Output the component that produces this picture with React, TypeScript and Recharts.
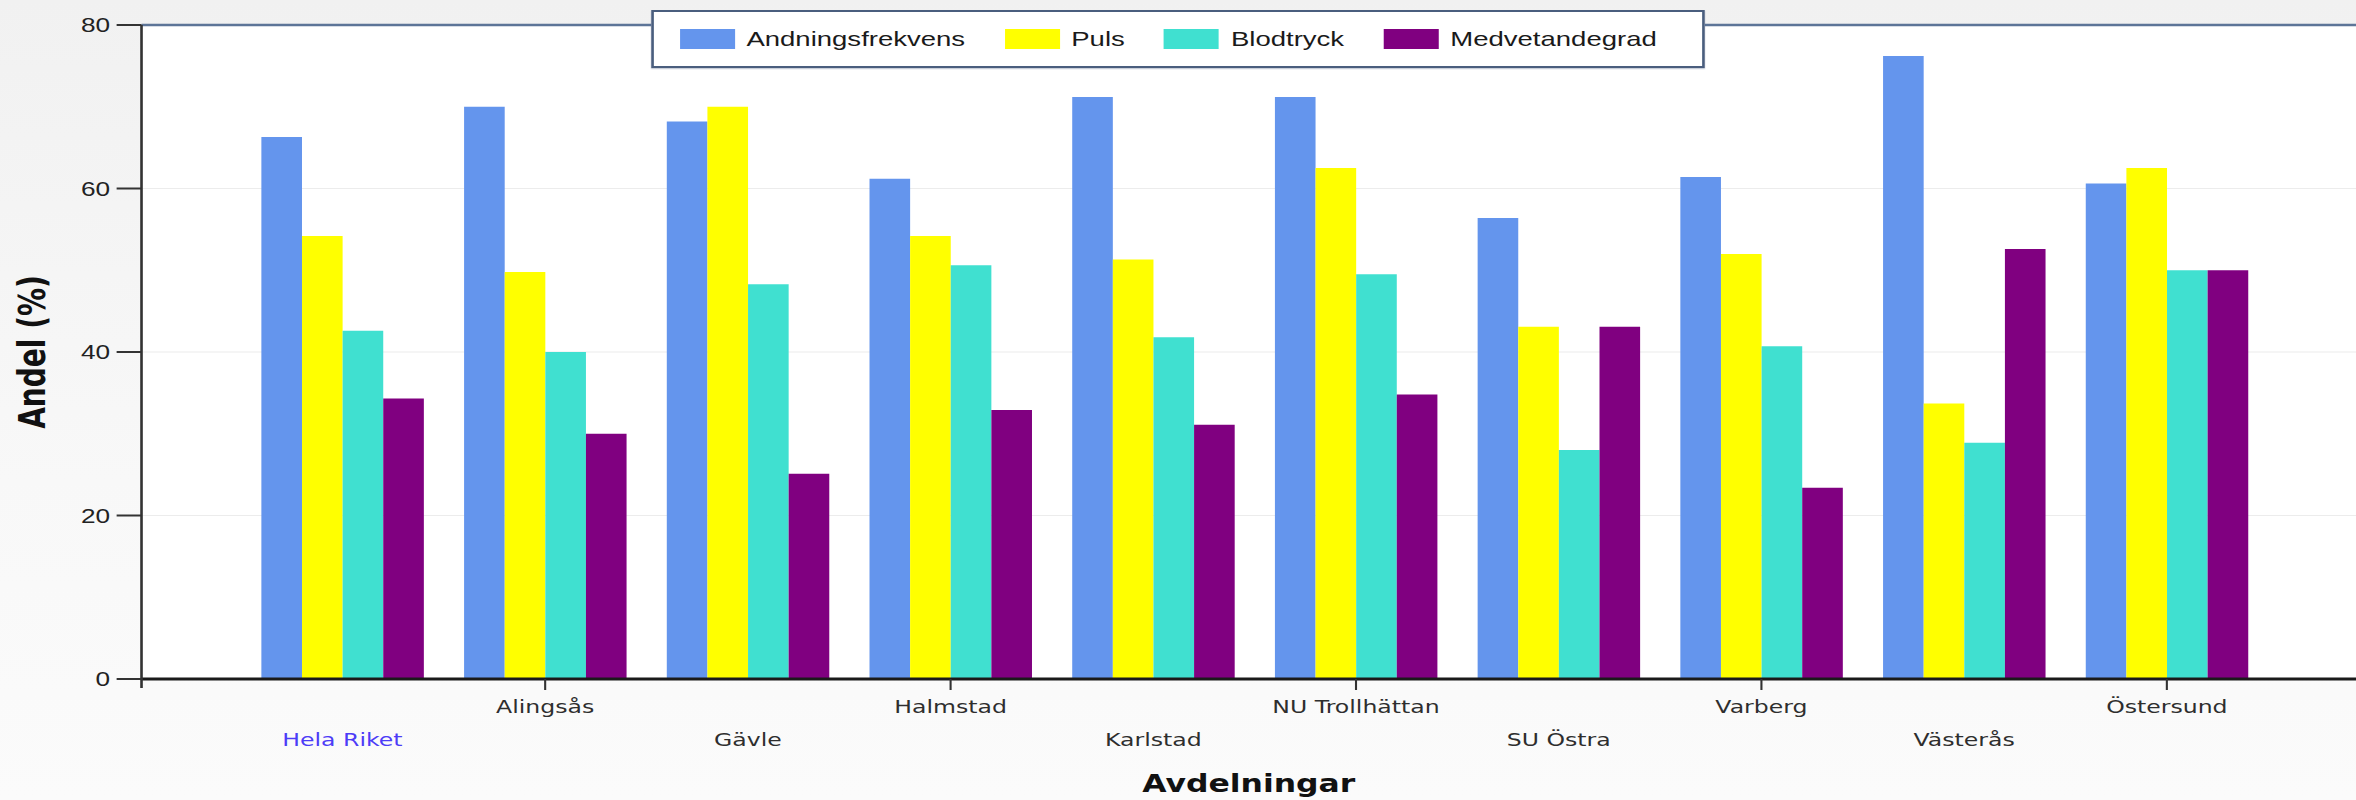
import React from 'react';
import { BarChart, Bar, XAxis, YAxis, CartesianGrid, Legend, ReferenceLine } from 'recharts';

const avdelningar = ['Hela Riket', 'Alingsås', 'Gävle', 'Halmstad', 'Karlstad', 'NU Trollhättan', 'SU Östra', 'Varberg', 'Västerås', 'Östersund'];
const andningsfrekvens = [66.3, 70.0, 68.2, 61.2, 71.2, 71.2, 56.4, 61.4, 76.2, 60.6];
const puls = [54.2, 49.8, 70.0, 54.2, 51.3, 62.5, 43.1, 52.0, 33.7, 62.5];
const blodtryck = [42.6, 40.0, 48.3, 50.6, 41.8, 49.5, 28.0, 40.7, 28.9, 50.0];
const medvetandegrad = [34.3, 30.0, 25.1, 32.9, 31.1, 34.8, 43.1, 23.4, 52.6, 50.0];
const yTicks = [0, 20, 40, 60, 80];

const series = [
  { key: 'andning', name: 'Andningsfrekvens', color: '#6495ED' },
  { key: 'puls', name: 'Puls', color: '#FFFF00' },
  { key: 'blodtryck', name: 'Blodtryck', color: '#40E0D0' },
  { key: 'medvetande', name: 'Medvetandegrad', color: '#800080' },
];

const data = avdelningar.map((namn, i) => ({
  namn,
  andning: andningsfrekvens[i],
  puls: puls[i],
  blodtryck: blodtryck[i],
  medvetande: medvetandegrad[i],
}));

// the reference is stretched sideways, so draw narrow and scale the x direction
const FULL_W = 2356;
const W = 1798;
const H = 800;

const XTick = (props: any) => {
  const { x, y, payload, index } = props;
  const upper = index % 2 === 1;
  return (
    <g>
      {upper && <line x1={x} x2={x} y1={y} y2={y + 11} stroke="#333" strokeWidth={1.6} />}
      <text
        x={x}
        y={y + (upper ? 34 : 67)}
        textAnchor="middle"
        fontFamily="DejaVu Sans"
        fontSize={18}
        fill={index === 0 ? '#4d3cf7' : '#2e2e2e'}
      >
        {payload.value}
      </text>
    </g>
  );
};

const YTick = (props: any) => {
  const { x, y, payload } = props;
  return (
    <g>
      <text x={x} y={y} dy="0.36em" textAnchor="end" fontFamily="Liberation Sans" fontSize={20} fill="#222">
        {payload.value}
      </text>
      {payload.value === 0 && <line x1={x + 24} x2={x + 24} y1={y} y2={y + 9} stroke="#333" strokeWidth={2} />}
    </g>
  );
};

const XTitle = (props: any) => {
  const vb = props.viewBox || { x: 108, y: 679, width: 1690, height: 100 };
  return (
    <text x={vb.x + vb.width / 2} y={vb.y + 113} textAnchor="middle" fontFamily="DejaVu Sans" fontWeight="bold" fontSize={24} fill="#111">
      Avdelningar
    </text>
  );
};

const YTitle = (props: any) => {
  const vb = props.viewBox || { x: 0, y: 25, width: 108, height: 654 };
  const cx = 34;
  const cy = vb.y + vb.height / 2;
  return (
    <text x={cx} y={cy} transform={`rotate(-90, ${cx}, ${cy})`} textAnchor="middle" fontFamily="DejaVu Sans" fontWeight="bold" fontSize={28} fill="#111">
      Andel (%)
    </text>
  );
};

const seriesOrder = (name: string) => series.findIndex((s) => s.name === name);

const LegendBox = (props: any) => {
  const payload = [...(props.payload || [])].sort((a: any, b: any) => seriesOrder(a.value) - seriesOrder(b.value));
  return (
    <div style={{ display: 'flex', justifyContent: 'center' }}>
      <div
        style={{
          display: 'flex',
          alignItems: 'center',
          height: 54,
          padding: '0 35px 0 20px',
          border: '2px solid #4a5e7e',
          background: '#fff',
          boxShadow: '0 1px 1px rgba(60,80,120,0.35)',
        }}
      >
        {payload.map((p: any, i: number) => (
          <div key={p.value} style={{ display: 'flex', alignItems: 'center', marginRight: i < payload.length - 1 ? 30 : 0 }}>
            <span style={{ display: 'inline-block', width: 42, height: 20, background: p.color, marginRight: 9 }} />
            <span style={{ fontFamily: 'Liberation Sans', fontSize: 21, color: '#1a1a1a' }}>{p.value}</span>
          </div>
        ))}
      </div>
    </div>
  );
};

export default function App() {
  return (
    <div
      style={{
        position: 'absolute',
        left: 0,
        top: 0,
        width: FULL_W,
        height: H,
        overflow: 'hidden',
        background: 'linear-gradient(180deg, #f1f1f1 0%, #f8f8f8 60%, #fbfbfb 100%)',
      }}
    >
      <div style={{ width: W, height: H, transform: `scaleX(${FULL_W / W})`, transformOrigin: '0 0' }}>
        <BarChart
          width={W}
          height={H}
          data={data}
          margin={{ top: 25, right: 0, bottom: 21, left: 0 }}
          barCategoryGap="10%"
          barGap={0}
        >
          <CartesianGrid vertical={false} stroke="#ececec" fill="#ffffff" />
          <XAxis
            dataKey="namn"
            interval={0}
            tickSize={0}
            tickMargin={0}
            tickLine={false}
            axisLine={{ stroke: '#1a1a1a', strokeWidth: 3 }}
            padding={{ left: 76, right: 67 }}
            height={100}
            tick={<XTick />}
            label={<XTitle />}
          />
          <YAxis
            domain={[0, 80]}
            ticks={yTicks}
            interval={0}
            width={108}
            tickSize={19}
            tickMargin={5}
            axisLine={{ stroke: '#333', strokeWidth: 2 }}
            tickLine={{ stroke: '#333', strokeWidth: 2 }}
            tick={<YTick />}
            label={<YTitle />}
          />
          <ReferenceLine y={80} stroke="#5d7598" strokeWidth={2.5} />
          <Legend
            layout="vertical"
            align="center"
            verticalAlign="middle"
            width={W}
            wrapperStyle={{ top: 10, left: 0, width: W }}
            content={<LegendBox />}
          />
          {series.map((s) => (
            <Bar key={s.key} dataKey={s.key} name={s.name} fill={s.color} isAnimationActive={false} />
          ))}
        </BarChart>
      </div>
    </div>
  );
}
